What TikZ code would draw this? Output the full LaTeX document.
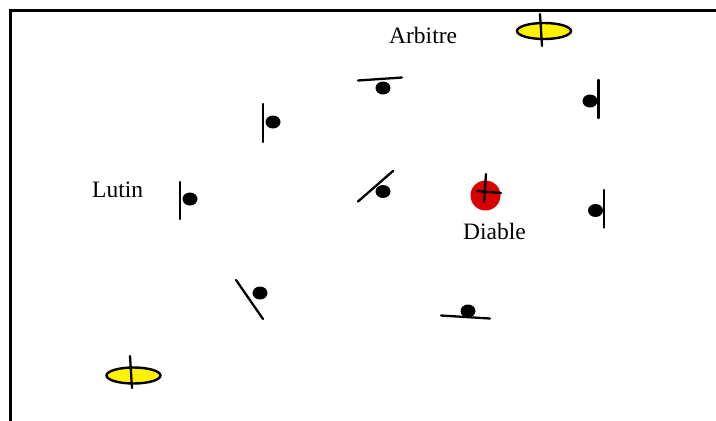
\documentclass[tikz,border=0pt]{standalone}
\usepackage{fontspec}
\setmainfont{Liberation Serif}
\begin{document}
\begin{tikzpicture}[x=1pt,y=-1pt,
  frame/.style={line width=3pt},
  stick/.style={line width=2.3pt,line cap=round},
  dot/.style={fill=black},
  ring/.style={draw=black,line width=2.4pt,fill=yellow},
  lbl/.style={anchor=base west,inner sep=0pt,font=\fontsize{23.5}{27}\selectfont}]
\useasboundingbox (0,0) rectangle (716,421);
% frame
\draw[frame] (10,425) -- (10,10) -- (720,10);
% players: dot + stick
\fill[dot] (383,88) ellipse (7.5 and 6.5);
\draw[stick] (358,80.5) -- (402,77.5);
\fill[dot] (273,122) ellipse (7.5 and 6.5);
\draw[stick] (263,104) -- (263,142);
\fill[dot] (590,101) ellipse (7.5 and 6.5);
\draw[stick] (598.5,80) -- (598.5,118);
\fill[dot] (190,199) ellipse (7.5 and 6.5);
\draw[stick] (180,182) -- (180,219);
\fill[dot] (383,191.5) ellipse (7.5 and 6.5);
\draw[stick] (358,201.5) -- (393,171);
\fill[dot] (595.5,210.5) ellipse (7.5 and 6.5);
\draw[stick] (604,190) -- (604,227.5);
\fill[dot] (260,293) ellipse (7.5 and 6.5);
\draw[stick] (236,280) -- (263,319);
\fill[dot] (468,311) ellipse (7.5 and 6.5);
\draw[stick] (441,315.5) -- (490,318.5);
% devil
\fill[red!85!black] (485.5,195.5) circle (15);
\draw[stick] (486,174) -- (484,202);
\draw[stick] (477,191) -- (501,193);
% referees
\draw[ring] (544,31) ellipse (27 and 8);
\draw[stick] (540,14) -- (542,46);
\draw[ring] (133.5,375.5) ellipse (27 and 8);
\draw[stick] (130,356) -- (132,388);
% labels
\node[lbl] (arb) at (389,43) {Arbitre};
\node[lbl] (lut) at (92,197) {Lutin};
\node[lbl] (dia) at (463,239) {Diable};
\end{tikzpicture}
\end{document}
